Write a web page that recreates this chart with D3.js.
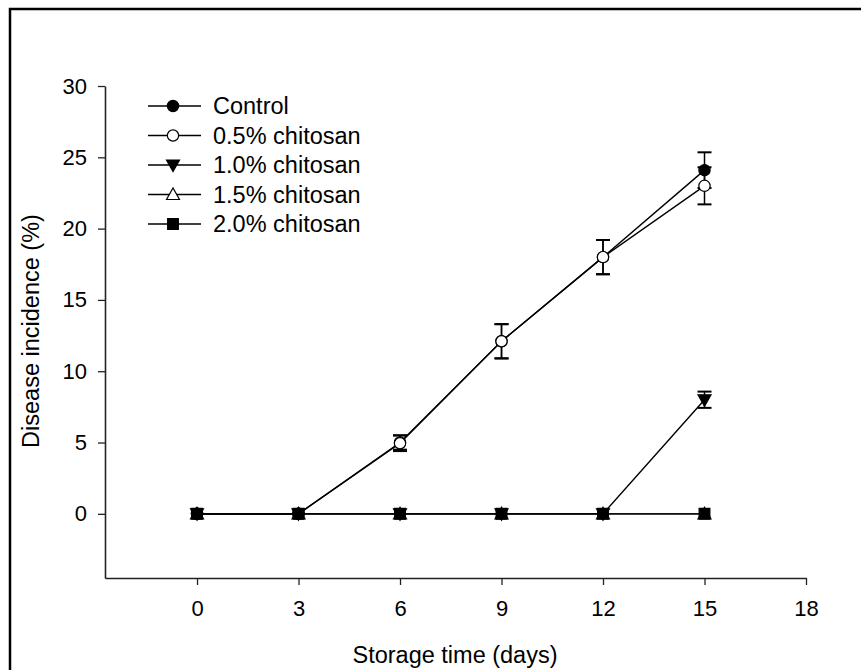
<!DOCTYPE html>
<html>
<head>
<meta charset="utf-8">
<script src="https://d3js.org/d3.v7.min.js"></script>
<style>
  body { margin: 0; background: #fff; }
  svg { display: block; font-family: "Liberation Sans", Arial, sans-serif; }
</style>
</head>
<body>
<script>
// data
const days = [0, 3, 6, 9, 12, 15];
const seriesNames = ["Control", "0.5% chitosan", "1.0% chitosan", "1.5% chitosan", "2.0% chitosan"];
const control = [0, 0, 5.0, 12.1, 18.0, 24.1];
const controlErr = [0, 0, 0.5, 1.2, 1.2, 1.25];
const chitosan05 = [0, 0, 4.95, 12.1, 18.0, 23.0];
const chitosan05Err = [0, 0, 0.55, 1.2, 1.2, 1.3];
const chitosan10 = [0, 0, 0, 0, 0, 8.0];
const chitosan10Err = [0, 0, 0, 0, 0, 0.57];
const chitosan15 = [0, 0, 0, 0, 0, 0];
const chitosan20 = [0, 0, 0, 0, 0, 0];
const xTicks = [0, 3, 6, 9, 12, 15, 18];
const yTicks = [0, 5, 10, 15, 20, 25, 30];

const W = 861, H = 670;

const svg = d3.select("body").append("svg")
  .attr("width", W)
  .attr("height", H);

// outer frame (runs off the right and bottom edge)
svg.append("rect")
  .attr("x", 10).attr("y", 9)
  .attr("width", W + 20).attr("height", H + 20)
  .attr("fill", "none")
  .attr("stroke", "#000")
  .attr("stroke-width", 2.5);

const x = d3.scaleLinear().domain([-2.72, 18]).range([105, 806]);
const y = d3.scaleLinear().domain([-4.5, 30]).range([578, 86]);

// axes
const xAxis = svg.append("g")
  .attr("transform", `translate(0,${y(-4.5)})`)
  .call(d3.axisBottom(x).tickValues(xTicks).tickSize(7).tickPadding(15).tickSizeOuter(0));
const yAxis = svg.append("g")
  .attr("transform", `translate(${x(-2.72)},0)`)
  .call(d3.axisLeft(y).tickValues(yTicks).tickSize(7).tickPadding(11).tickSizeOuter(0));

[xAxis, yAxis].forEach(g => {
  g.select(".domain").attr("stroke", "#222").attr("stroke-width", 1.6);
  g.selectAll(".tick line").attr("stroke", "#222").attr("stroke-width", 1.3);
  g.selectAll("text")
    .attr("fill", "#000")
    .style("font-size", "22px")
    .style("font-family", "'Liberation Sans', Arial, sans-serif");
});

svg.append("text")
  .attr("x", 455).attr("y", 663)
  .attr("text-anchor", "middle")
  .style("font-size", "23.5px")
  .text("Storage time (days)");

svg.append("text")
  .attr("transform", "translate(39,331) rotate(-90)")
  .attr("text-anchor", "middle")
  .style("font-size", "23.5px")
  .text("Disease incidence (%)");

// symbols
const circle = d3.symbol().type(d3.symbolCircle).size(100);
const square = d3.symbol().type(d3.symbolSquare).size(115);
const triDown = "M-6.5,-5L6.5,-5L0,6.5Z";
const triUp = "M-6.5,5L6.5,5L0,-6.5Z";

const series = [
  { name: seriesNames[0], values: control, err: controlErr, path: circle(), fill: "#000" },
  { name: seriesNames[1], values: chitosan05, err: chitosan05Err, path: circle(), fill: "#fff" },
  { name: seriesNames[2], values: chitosan10, err: chitosan10Err, path: triDown, fill: "#000" },
  { name: seriesNames[3], values: chitosan15, err: null, path: triUp, fill: "#fff" },
  { name: seriesNames[4], values: chitosan20, err: null, path: square(), fill: "#000" }
];

const line = d3.line().x(d => x(d[0])).y(d => y(d[1]));

series.forEach(s => {
  const pts = days.map((d, i) => [d, s.values[i], s.err ? s.err[i] : 0]);
  const g = svg.append("g");

  // error bars
  const eb = g.selectAll(".eb").data(pts.filter(p => p[2] > 0)).enter().append("g");
  eb.append("line")
    .attr("x1", d => x(d[0])).attr("x2", d => x(d[0]))
    .attr("y1", d => y(d[1] - d[2])).attr("y2", d => y(d[1] + d[2]))
    .attr("stroke", "#000").attr("stroke-width", 1.5);
  [-1, 1].forEach(sign => {
    eb.append("line")
      .attr("x1", d => x(d[0]) - 7).attr("x2", d => x(d[0]) + 7)
      .attr("y1", d => y(d[1] + sign * d[2])).attr("y2", d => y(d[1] + sign * d[2]))
      .attr("stroke", "#000").attr("stroke-width", 2);
  });

  g.append("path")
    .datum(pts)
    .attr("d", line)
    .attr("fill", "none")
    .attr("stroke", "#000")
    .attr("stroke-width", 1.4);

  g.selectAll(".pt").data(pts).enter().append("path")
    .attr("transform", d => `translate(${x(d[0])},${y(d[1])})`)
    .attr("d", s.path)
    .attr("fill", s.fill)
    .attr("stroke", "#000")
    .attr("stroke-width", 1.2);
});

// legend
const legend = svg.append("g");
series.forEach((s, i) => {
  const ly = 106 + i * 29.5;
  legend.append("line")
    .attr("x1", 148).attr("x2", 201)
    .attr("y1", ly).attr("y2", ly)
    .attr("stroke", "#000").attr("stroke-width", 1.4);
  legend.append("path")
    .attr("transform", `translate(173,${ly})`)
    .attr("d", s.path)
    .attr("fill", s.fill)
    .attr("stroke", "#000")
    .attr("stroke-width", 1.2);
  legend.append("text")
    .attr("x", 213).attr("y", ly)
    .attr("dy", "0.36em")
    .style("font-size", "23.5px")
    .text(s.name);
});
</script>
</body>
</html>
